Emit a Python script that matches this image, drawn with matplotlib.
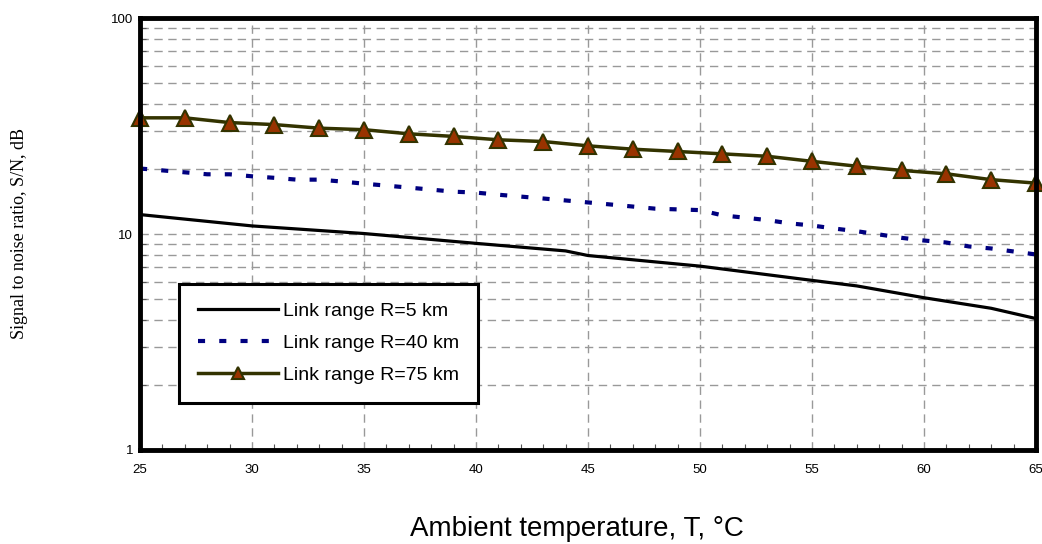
import matplotlib
matplotlib.use('Agg')
import matplotlib.pyplot as plt
from matplotlib.ticker import FixedLocator, NullFormatter, MultipleLocator

# ambient temperature, degC
temp_1deg = list(range(25, 66))
temp_2deg = list(range(25, 66, 2))

# link range R = 5 km (read at a few temperatures)
temp_r5 = [25, 30, 35, 40, 44, 45, 50, 55, 57, 60, 63, 65]
snr_r5 = [12.3, 10.9, 10.05, 9.05, 8.35, 7.95, 7.1, 6.1, 5.75, 5.07, 4.53, 4.06]

# link range R = 40 km, one value per degree
snr_r40 = [20.1, 19.7, 19.3, 18.9, 18.9, 18.5, 18.2, 17.85, 17.85, 17.5,
           17.1, 16.75, 16.4, 16.05, 15.7, 15.55, 15.2, 14.9, 14.6, 14.3,
           14.0, 13.7, 13.4, 13.1, 13.0, 12.9, 12.2, 11.9, 11.6, 11.2,
           10.95, 10.6, 10.3, 9.95, 9.6, 9.33, 9.13, 8.76, 8.57, 8.3, 8.04]

# link range R = 75 km, every 2 degrees
snr_r75 = [34.5, 34.5, 32.8, 32.1, 30.9, 30.4, 29.1, 28.3, 27.3, 26.8, 25.6,
           24.7, 24.1, 23.5, 22.9, 21.7, 20.6, 19.7, 19.0, 17.85, 17.2]

x_ticks = [25, 30, 35, 40, 45, 50, 55, 60, 65]

fig = plt.figure(figsize=(10.42, 5.44), dpi=100)
ax = fig.add_axes([0.1344, 0.1728, 0.8598, 0.7941])

ax.plot(temp_r5, snr_r5, color='black', lw=2.3, label='Link range R=5 km', zorder=3)
ax.plot(temp_1deg, snr_r40, color='#000080', lw=3, linestyle=(0, (1.7, 3.4)),
        label='Link range R=40 km', zorder=3)
ax.plot(temp_2deg, snr_r75, color='#333300', lw=2.5, marker='^', markersize=11,
        markerfacecolor='#993300', markeredgecolor='#333300', markeredgewidth=1.5,
        label='Link range R=75 km', zorder=4, clip_on=False)

ax.set_yscale('log')
ax.set_xlim(25, 65)
ax.set_ylim(1, 100)

ax.xaxis.set_major_locator(FixedLocator(x_ticks))
ax.xaxis.set_minor_locator(MultipleLocator(1))
ax.set_xticklabels([str(t) for t in x_ticks])
ax.yaxis.set_major_locator(FixedLocator([1, 10, 100]))
ax.set_yticklabels(['1', '10', '100'])
ax.yaxis.set_minor_formatter(NullFormatter())

ax.tick_params(which='major', length=0, labelsize=9.5, pad=10)
ax.tick_params(axis='y', which='major', pad=5)
ax.tick_params(which='minor', direction='in', length=4, width=0.8, color='#555555')

ax.grid(True, which='major', axis='x', color='#999999', lw=1, linestyle=(0, (6, 4)))
ax.grid(True, which='both', axis='y', color='#999999', lw=1, linestyle=(0, (6, 4)))

for s in ax.spines.values():
    s.set_linewidth(3.5)
    s.set_color('black')
    s.set_zorder(5)

leg = ax.legend(loc='upper left', bbox_to_anchor=(0.044, 0.385),
                frameon=True, fancybox=False, handlelength=4.1, handletextpad=0.3,
                labelspacing=0.75, borderpad=0.95, borderaxespad=0, markerscale=0.85,
                prop={'family': 'Liberation Sans', 'size': 14})
leg.get_frame().set_edgecolor('black')
leg.get_frame().set_linewidth(2.2)
leg.get_frame().set_alpha(1)
leg.set_zorder(6)

fig.text(0.5537, 0.027, 'Ambient temperature, T, °C', ha='center', va='center',
         fontsize=20, family='Liberation Sans')
fig.text(0.019, 0.57, 'Signal to noise ratio, S/N, dB', rotation=90, va='center', ha='center',
         fontsize=13, family='Liberation Serif')

for lab in ax.get_xticklabels() + ax.get_yticklabels():
    lab.set_family('Liberation Sans')

plt.savefig('out.png', dpi=100)
